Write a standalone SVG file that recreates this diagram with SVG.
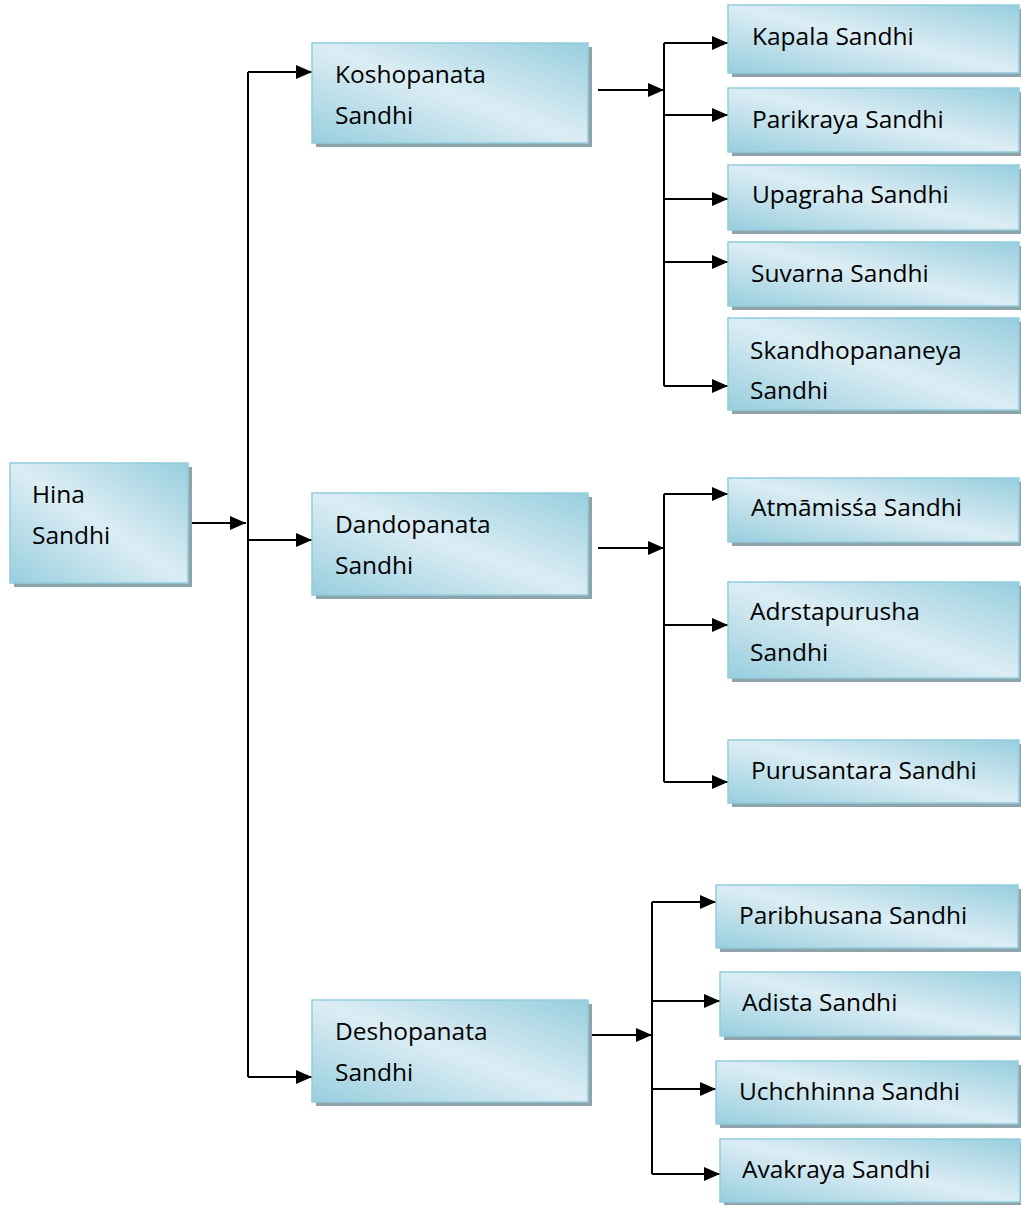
<svg xmlns="http://www.w3.org/2000/svg" width="1021" height="1205" viewBox="0 0 1021 1205">
<defs>
<linearGradient id="g" x1="0" y1="1" x2="1" y2="0">
<stop offset="0" stop-color="#98cede"/>
<stop offset="0.5" stop-color="#dcedf4"/>
<stop offset="1" stop-color="#98cede"/>
</linearGradient>
<marker id="a" viewBox="0 0 16 14" refX="16" refY="7" markerWidth="16" markerHeight="14" markerUnits="userSpaceOnUse" orient="auto">
<path d="M0,0 L16,7 L0,14 Z" fill="#000"/>
</marker>
</defs>
<style>
.sh{fill:#8fa3aa}
.bx{fill:url(#g);stroke:#92cddc;stroke-width:1.5}
text{font-family:"Open Sans","Noto Sans","Liberation Sans",sans-serif;font-size:24.5px;fill:#000}
.c{fill:none;stroke:#000;stroke-width:2}
.ar{marker-end:url(#a)}
</style>
<rect width="1021" height="1205" fill="#fff"/>
<g id="connectors">
<path class="c ar" d="M188,523 H246"/>
<path class="c" d="M248,72 V1077"/>
<path class="c ar" d="M248,72 H312"/>
<path class="c ar" d="M248,540 H312"/>
<path class="c ar" d="M248,1077 H312"/>
<path class="c ar" d="M598,90 H664"/>
<path class="c" d="M664,43 V386"/>
<path class="c ar" d="M664,43 H728"/>
<path class="c ar" d="M664,115 H728"/>
<path class="c ar" d="M664,199 H728"/>
<path class="c ar" d="M664,262 H728"/>
<path class="c ar" d="M664,386 H728"/>
<path class="c ar" d="M598,548 H664"/>
<path class="c" d="M664,494 V782"/>
<path class="c ar" d="M664,494 H728"/>
<path class="c ar" d="M664,625 H728"/>
<path class="c ar" d="M664,782 H728"/>
<path class="c ar" d="M588,1035 H652"/>
<path class="c" d="M652,902 V1174"/>
<path class="c ar" d="M652,902 H716"/>
<path class="c ar" d="M652,1001 H720"/>
<path class="c ar" d="M652,1089 H716"/>
<path class="c ar" d="M652,1174 H720"/>
</g>
<g id="hina"><rect class="sh" x="14" y="467" width="178" height="120"/><rect class="bx" x="10" y="463" width="178" height="120"/><text x="32" y="503">Hina</text><text x="32" y="544">Sandhi</text></g>
<g id="kosho"><rect class="sh" x="316" y="47" width="276" height="100"/><rect class="bx" x="312" y="43" width="276" height="100"/><text x="335" y="83">Koshopanata</text><text x="335" y="124">Sandhi</text></g>
<g id="dando"><rect class="sh" x="316" y="497" width="276" height="102"/><rect class="bx" x="312" y="493" width="276" height="102"/><text x="335" y="533">Dandopanata</text><text x="335" y="574">Sandhi</text></g>
<g id="desho"><rect class="sh" x="316" y="1004" width="276" height="102"/><rect class="bx" x="312" y="1000" width="276" height="102"/><text x="335" y="1040">Deshopanata</text><text x="335" y="1081">Sandhi</text></g>
<g id="kapala"><rect class="sh" x="732" y="9" width="292" height="68"/><rect class="bx" x="728" y="5" width="291" height="68"/><text x="752" y="45">Kapala Sandhi</text></g>
<g id="parikraya"><rect class="sh" x="732" y="92" width="292" height="64"/><rect class="bx" x="728" y="88" width="291" height="64"/><text x="752" y="128">Parikraya Sandhi</text></g>
<g id="upagraha"><rect class="sh" x="732" y="169" width="292" height="65"/><rect class="bx" x="728" y="165" width="291" height="65"/><text x="752" y="203">Upagraha Sandhi</text></g>
<g id="suvarna"><rect class="sh" x="732" y="246" width="292" height="64"/><rect class="bx" x="728" y="242" width="291" height="64"/><text x="751" y="282">Suvarna Sandhi</text></g>
<g id="skandho"><rect class="sh" x="732" y="322" width="292" height="92"/><rect class="bx" x="728" y="318" width="291" height="92"/><text x="750" y="359">Skandhopananeya</text><text x="750" y="399">Sandhi</text></g>
<g id="atma"><rect class="sh" x="732" y="482" width="292" height="64"/><rect class="bx" x="728" y="478" width="291" height="64"/><text x="751" y="516">Atmāmisśa Sandhi</text></g>
<g id="adrsta"><rect class="sh" x="732" y="586" width="292" height="96"/><rect class="bx" x="728" y="582" width="291" height="96"/><text x="750" y="620">Adrstapurusha</text><text x="750" y="661">Sandhi</text></g>
<g id="purusantara"><rect class="sh" x="732" y="744" width="292" height="63"/><rect class="bx" x="728" y="740" width="291" height="63"/><text x="751" y="779">Purusantara Sandhi</text></g>
<g id="paribhusana"><rect class="sh" x="720" y="889" width="302" height="63"/><rect class="bx" x="716" y="885" width="302" height="63"/><text x="739" y="924">Paribhusana Sandhi</text></g>
<g id="adista"><rect class="sh" x="724" y="976" width="300" height="64"/><rect class="bx" x="720" y="972" width="300" height="64"/><text x="742" y="1011">Adista Sandhi</text></g>
<g id="uchchhinna"><rect class="sh" x="720" y="1065" width="302" height="63"/><rect class="bx" x="716" y="1061" width="302" height="63"/><text x="739" y="1100">Uchchhinna Sandhi</text></g>
<g id="avakraya"><rect class="sh" x="724" y="1143" width="300" height="63"/><rect class="bx" x="720" y="1139" width="300" height="63"/><text x="742" y="1178">Avakraya Sandhi</text></g>
</svg>
